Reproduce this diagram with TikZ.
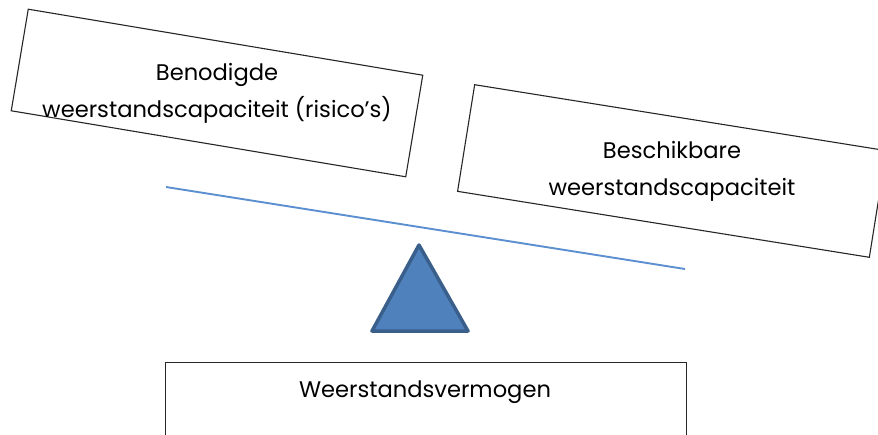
\documentclass[tikz,border=0pt]{standalone}
\usepackage{fontspec}
\setmainfont{Poppins}
\definecolor{beam}{HTML}{5B8FD0}
\definecolor{trifill}{HTML}{4F81BD}
\definecolor{triedge}{HTML}{3A5F8B}
\begin{document}
\begin{tikzpicture}[x=1pt,y=-1pt,
  box/.style={draw=black!85, line width=1.1pt, fill=none, inner sep=0pt},
  lbl/.style={font=\fontsize{22.6}{37}\selectfont, align=center, inner sep=0pt, text=black}]
\useasboundingbox (0,0) rectangle (878,434);
\clip (0,0) rectangle (878,434);
\node[box, rotate=-9.5, minimum width=400pt, minimum height=103pt] (b1) at (217,93) {};
\node[box, rotate=-9.1, minimum width=417pt, minimum height=108pt] (b2) at (672,171) {};
\node[box, minimum width=521pt, minimum height=100pt, anchor=north west] (b3) at (165,362) {};
\node[lbl] (t1) at (217,93) {Benodigde\\weerstandscapaciteit (risico’s)};
\node[lbl] (t2) at (672,171) {Beschikbare\\weerstandscapaciteit};
\node[lbl] (t3) at (425,392) {Weerstandsvermogen};
\coordinate (l1) at (166,187);
\coordinate (l2) at (685,269);
\draw[beam, line width=1.9pt] (l1) -- (l2);
\coordinate (ta) at (419,245);
\coordinate (tb) at (372,331);
\coordinate (tc) at (468,331);
\draw[fill=trifill, draw=triedge, line width=3.5pt, line join=round] (ta) -- (tb) -- (tc) -- cycle;
\end{tikzpicture}
\end{document}
